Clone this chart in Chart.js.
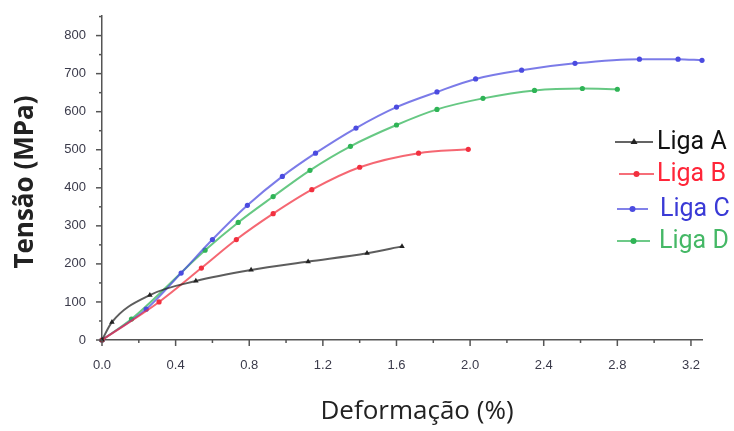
<!DOCTYPE html>
<html>
<head>
<meta charset="utf-8">
<script src="https://cdn.jsdelivr.net/npm/chart.js@4.4.1/dist/chart.umd.min.js"></script>
<style>
  html, body { margin: 0; padding: 0; background: #fff; }
  #wrap { width: 734px; height: 431px; }
</style>
</head>
<body>
<div id="wrap"><canvas id="grafico"></canvas></div>
<script>
// Ensaio de tração: deformação (%) x tensão (MPa)
const series = ['Liga A', 'Liga B', 'Liga C', 'Liga D'];

const defA = [0, 0.054, 0.26, 0.51, 0.81, 1.12, 1.44, 1.63];
const tenA = [0, 47, 118, 155, 184, 206, 228, 246];

const defB = [0, 0.31, 0.54, 0.73, 0.93, 1.14, 1.40, 1.72, 1.99];
const tenB = [0, 100, 189, 264, 332, 395, 454, 491, 501];

const defC = [0, 0.24, 0.43, 0.60, 0.79, 0.98, 1.16, 1.38, 1.60, 1.82, 2.03, 2.28, 2.57, 2.92, 3.13, 3.26];
const tenC = [0, 81, 176, 264, 354, 430, 491, 557, 612, 652, 686, 709, 727, 738, 738, 735];

const defD = [0, 0.16, 0.56, 0.74, 0.93, 1.13, 1.35, 1.60, 1.82, 2.07, 2.35, 2.61, 2.80];
const tenD = [0, 55, 236, 309, 377, 446, 509, 565, 606, 635, 656, 661, 659];

const xTicks = [0, 0.4, 0.8, 1.2, 1.6, 2.0, 2.4, 2.8, 3.2];
const yTicks = [0, 100, 200, 300, 400, 500, 600, 700, 800];

const tituloX = 'Deformação (%)';
const tituloY = 'Tensão (MPa)';

const cores = ['#222222', '#f2303f', '#4b4be0', '#2fb456'];
const coresTexto = ['#111111', '#ff2538', '#3a3ad6', '#45b866'];
const marcadores = ['triangle', 'circle', 'circle', 'circle'];

const pares = (xs, ys) => xs.map((x, i) => ({ x: x, y: ys[i] }));
const dados = [pares(defA, tenA), pares(defB, tenB), pares(defC, tenC), pares(defD, tenD)];

// marcas maiores e menores nos eixos
const marcasEixos = {
    id: 'marcasEixos',
    afterDraw(chart) {
        const ctx = chart.ctx;
        const xs = chart.scales.x, ys = chart.scales.y;
        ctx.save();
        ctx.strokeStyle = '#555';
        ctx.lineWidth = 1.5;
        for (let v = 0; v <= 3.21; v += 0.2) {
            const px = xs.getPixelForValue(v);
            const major = Math.round(v * 10) % 4 === 0;
            ctx.beginPath();
            ctx.moveTo(px, xs.top);
            ctx.lineTo(px, xs.top + (major ? 6 : 3));
            ctx.stroke();
        }
        for (let v = 0; v <= 850; v += 50) {
            const py = ys.getPixelForValue(v);
            const major = v % 100 === 0;
            ctx.beginPath();
            ctx.moveTo(ys.right, py);
            ctx.lineTo(ys.right - (major ? 6 : 3), py);
            ctx.stroke();
        }
        ctx.restore();
    }
};

// títulos dos eixos
const titulosEixos = {
    id: 'titulosEixos',
    afterDraw(chart) {
        const ctx = chart.ctx;
        ctx.save();
        ctx.fillStyle = '#222';
        ctx.textAlign = 'center';
        ctx.textBaseline = 'middle';
        ctx.font = '26px "Open Sans"';
        ctx.fillText(tituloX, 417, 412);
        ctx.translate(26, 182);
        ctx.rotate(-Math.PI / 2);
        ctx.font = 'bold 26px "Open Sans"';
        ctx.fillText(tituloY, 0, 0);
        ctx.restore();
    }
};

// legenda desenhada sobre a área do gráfico
const legendaLigas = {
    id: 'legendaLigas',
    afterDraw(chart) {
        const ctx = chart.ctx;
        const linhas = [
            { y: 142, x0: 615, x1: 653, tx: 657 },
            { y: 174, x0: 619, x1: 654, tx: 657 },
            { y: 209, x0: 617, x1: 648, tx: 660 },
            { y: 241, x0: 617, x1: 650, tx: 659 }
        ];
        ctx.save();
        series.forEach((nome, i) => {
            const l = linhas[i];
            ctx.strokeStyle = cores[i];
            ctx.globalAlpha = 0.7;
            ctx.lineWidth = 2;
            ctx.beginPath();
            ctx.moveTo(l.x0, l.y);
            ctx.lineTo(l.x1, l.y);
            ctx.stroke();
            ctx.globalAlpha = 1;
            ctx.fillStyle = cores[i];
            const cx = (l.x0 + l.x1) / 2;
            ctx.beginPath();
            if (marcadores[i] === 'triangle') {
                ctx.moveTo(cx, l.y - 4);
                ctx.lineTo(cx + 3.5, l.y + 2);
                ctx.lineTo(cx - 3.5, l.y + 2);
                ctx.closePath();
            } else {
                ctx.arc(cx, l.y, 3, 0, Math.PI * 2);
            }
            ctx.fill();
            ctx.fillStyle = coresTexto[i];
            ctx.font = '25px Roboto';
            ctx.textBaseline = 'middle';
            ctx.fillText(nome, l.tx, l.y + 1);
        });
        ctx.restore();
    }
};

new Chart(document.getElementById('grafico'), {
    type: 'line',
    data: {
        datasets: dados.map((d, i) => ({
            label: series[i],
            data: d,
            borderColor: cores[i] + 'bb',
            backgroundColor: cores[i],
            borderWidth: 2,
            pointStyle: marcadores[i],
            pointRadius: i === 0 ? 3.2 : 2.6,
            pointBorderWidth: 0,
            cubicInterpolationMode: 'monotone',
            fill: false,
            clip: false
        }))
    },
    options: {
        responsive: true,
        maintainAspectRatio: false,
        animation: false,
        layout: { padding: { top: 15, right: 32, left: 0, bottom: 0 } },
        plugins: { legend: { display: false }, tooltip: { enabled: false } },
        scales: {
            x: {
                type: 'linear',
                min: 0,
                max: 3.26,
                afterBuildTicks: s => { s.ticks = xTicks.map(v => ({ value: v })); },
                afterFit: s => { s.height = 91; },
                grid: { display: false },
                border: { display: true, color: '#555', width: 1.5 },
                ticks: {
                    padding: 10,
                    color: '#3a3a4a',
                    font: { family: 'Liberation Sans', size: 13 },
                    callback: v => v.toFixed(1)
                }
            },
            y: {
                min: 0,
                max: 852,
                afterBuildTicks: s => { s.ticks = yTicks.map(v => ({ value: v })); },
                afterFit: s => { s.width = 102; },
                grid: { display: false },
                border: { display: true, color: '#555', width: 1.5 },
                ticks: {
                    padding: 8,
                    color: '#3a3a4a',
                    font: { family: 'Liberation Sans', size: 13 }
                }
            }
        }
    },
    plugins: [marcasEixos, titulosEixos, legendaLigas]
});
</script>
</body>
</html>
